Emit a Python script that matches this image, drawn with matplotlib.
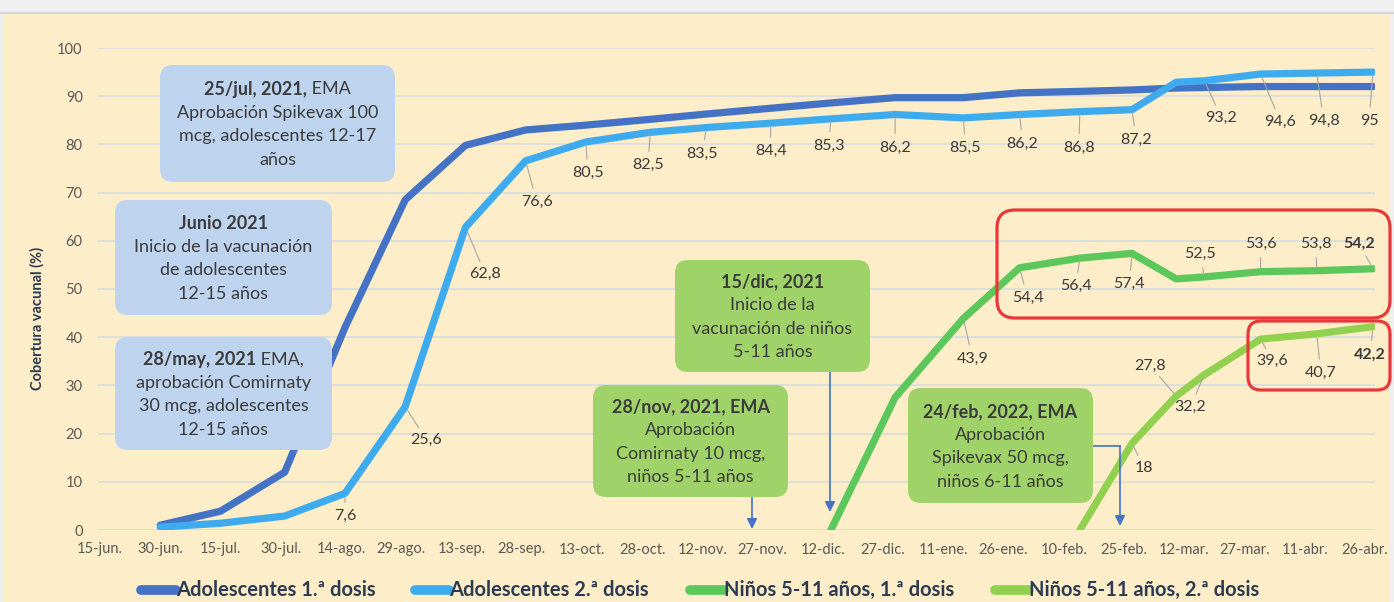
import matplotlib
matplotlib.use("Agg")
import matplotlib.pyplot as plt
from matplotlib.patches import FancyBboxPatch, Rectangle
from matplotlib.lines import Line2D
import numpy as np
import pandas as pd

plt.rcParams['font.family'] = ['Lato', 'DejaVu Sans']

# ---- data -------------------------------------------------------------
fechas = pd.to_datetime([
    '2021-06-30', '2021-07-15', '2021-07-31', '2021-08-15', '2021-08-30',
    '2021-09-14', '2021-09-29', '2021-10-14', '2021-10-30', '2021-11-13',
    '2021-11-29', '2021-12-14', '2021-12-30', '2022-01-16', '2022-01-30',
    '2022-02-14', '2022-02-27', '2022-03-10', '2022-03-17', '2022-03-31',
    '2022-04-14', '2022-04-28'])

nan = np.nan
ado1 = [1.0, 3.9, 12.0, 42.0, 68.5, 79.8, 83.0, 84.0, 85.2, 86.3, 87.5,
        88.6, 89.7, 89.7, 90.7, 91.0, 91.3, 91.7, 91.8, 92.0, 92.0, 92.0]
ado2 = [0.6, 1.4, 2.9, 7.6, 25.6, 62.8, 76.6, 80.5, 82.5, 83.5, 84.4,
        85.3, 86.2, 85.5, 86.2, 86.8, 87.2, 92.9, 93.2, 94.6, 94.8, 95.0]
nin1 = [nan] * 11 + [0.0, 27.5, 43.9, 54.4, 56.4, 57.4, 52.1, 52.5, 53.6, 53.8, 54.2]
nin2 = [nan] * 15 + [0.0, 18.0, 27.8, 32.2, 39.6, 40.7, 42.2]

series_names = ["Adolescentes 1.ª dosis", "Adolescentes 2.ª dosis",
                "Niños 5-11 años, 1.ª dosis", "Niños 5-11 años, 2.ª dosis"]

tick_dates = pd.date_range('2021-06-15', periods=22, freq='15D')
tick_labels = ["15-jun.", "30-jun.", "15-jul.", "30-jul.", "14-ago.", "29-ago.",
               "13-sep.", "28-sep.", "13-oct.", "28-oct.", "12-nov.", "27-nov.",
               "12-dic.", "27-dic.", "11-ene.", "26-ene.", "10-feb.", "25-feb.",
               "12-mar.", "27-mar.", "11-abr.", "26-abr."]

# which points carry a data label, and where the label sits (px right, px down)
lab_ado2 = {3: (0, 23), 4: (21, 33), 5: (20, 47), 6: (11, 41), 7: (2, 31),
            8: (-2, 33), 9: (-4, 26), 10: (0, 28), 11: (-2, 27), 12: (0, 33),
            13: (2, 30), 14: (3, 29), 15: (-1, 36), 16: (4, 30), 18: (17, 37),
            19: (20, 48), 20: (7, 48), 21: (-4, 49)}
lab_nin1 = {13: (9, 40), 14: (8, 30), 15: (-4, 28), 16: (-3, 31), 18: (-4, -23),
            19: (0, -28), 20: (-1, -27), 21: (-14, -25)}
lab_nin2 = {16: (12, 25), 17: (-26, -30), 18: (-14, 32), 19: (12, 22),
            20: (4, 39), 21: (-3, 28)}

# ---- figure -----------------------------------------------------------
W, H, DPI = 1394, 602, 100
CREAM = '#fdedc8'
TXT = '#3b3b3b'
NAVY = '#2c3b52'
colors = ['#4472c4', '#3fabef', '#5cc85c', '#92d050']

fig = plt.figure(figsize=(W / DPI, H / DPI), dpi=DPI, facecolor='#efefef')
T = fig.dpi_scale_trans


def inch(px, py):
    return px / DPI, (H - py) / DPI


fig.patches.append(Rectangle(inch(4, 602), 1386 / DPI, 589 / DPI, transform=T,
                             facecolor=CREAM, edgecolor='none', zorder=-5))
fig.lines.append(Line2D([0, W / DPI], [(H - 13) / DPI] * 2, transform=T,
                        color='#d6d6d6', lw=1.5, zorder=-4))

ax = fig.add_axes([98 / W, 1 - 530 / H, (1375 - 98) / W, (530 - 48) / H])
ax.set_facecolor('none')
ax.set_xlim(pd.Timestamp('2021-06-15') - pd.Timedelta(hours=12),
            pd.Timestamp('2022-04-28') + pd.Timedelta(hours=12))
ax.set_ylim(0, 100)
ax.set_yticks(range(0, 101, 10))
ax.set_xticks(tick_dates)
ax.set_xticklabels(tick_labels)
ax.tick_params(axis='y', length=0, pad=11, labelsize=10.5, labelcolor='#595959')
ax.tick_params(axis='x', length=0, pad=9, labelsize=10.5, labelcolor='#595959')
ax.grid(axis='y', color='#d8dbe2', lw=1.2)
ax.set_axisbelow(True)
for s in ax.spines.values():
    s.set_visible(False)

for vals, c in zip([ado1, ado2, nin1, nin2], colors):
    ax.plot(fechas, vals, color=c, lw=5.2, solid_capstyle='round',
            solid_joinstyle='round', zorder=3)


def fmt(v):
    return '{:g}'.format(v).replace('.', ',')


def data_labels(vals, labs, bold_last=False):
    last = max(labs)
    for i, (dx, dy) in labs.items():
        v = vals[i]
        ox, oy = dx * 0.72, -dy * 0.72
        bold = bold_last and i == last
        ax.annotate(fmt(v), xy=(fechas[i], v), xytext=(ox, oy),
                    textcoords='offset points', ha='center', va='center',
                    fontsize=11.5, color=TXT, zorder=5,
                    fontweight='bold' if bold else 'normal')
        d = np.hypot(dx, dy)
        r = 14
        if d > r + 8:
            k = (d - r) / d
            ax.annotate('', xy=(fechas[i], v), xytext=(ox * k, oy * k),
                        textcoords='offset points', zorder=4,
                        arrowprops=dict(arrowstyle='-', color='#a6a6a6', lw=0.8,
                                        shrinkA=0, shrinkB=3))


data_labels(ado2, lab_ado2)
data_labels(nin1, lab_nin1, bold_last=True)
data_labels(nin2, lab_nin2, bold_last=True)

fig.text(*inch(37, 318), 'Cobertura vacunal (%)', transform=T, rotation=90,
         ha='center', va='center', fontsize=10.5, fontweight='bold', color=NAVY)

# ---- annotation boxes -------------------------------------------------
renderer = fig.canvas.get_renderer()


def note(x0, y0, x1, y1, color, lines, size=13, spacing=23.5):
    fig.patches.append(FancyBboxPatch(inch(x0, y1), (x1 - x0) / DPI, (y1 - y0) / DPI,
                                      boxstyle='round,pad=0,rounding_size=0.13',
                                      transform=T, facecolor=color,
                                      edgecolor='none', zorder=6))
    cx, cy = (x0 + x1) / 2, (y0 + y1) / 2 + 1
    n = len(lines)
    for i, segs in enumerate(lines):
        y = cy + (i - (n - 1) / 2) * spacing
        texts = [fig.text(0, 0, s, transform=T, fontsize=size, color=TXT,
                          fontweight='bold' if b else 'normal',
                          ha='left', va='center', zorder=7) for s, b in segs]
        widths = [t.get_window_extent(renderer).width for t in texts]
        x = cx - sum(widths) / 2
        for t, w in zip(texts, widths):
            t.set_position(inch(x, y))
            x += w


BLUEBOX = '#bdd3ee'
GREENBOX = '#9fd36a'
note(160, 65, 395, 182, BLUEBOX,
     [[("25/jul, 2021,", True), (" EMA", False)],
      [("Aprobación Spikevax 100", False)],
      [("mcg, adolescentes 12-17", False)],
      [("años", False)]])
note(115, 200, 332, 315, BLUEBOX,
     [[("Junio 2021", True)],
      [("Inicio de la vacunación", False)],
      [("de adolescentes", False)],
      [("12-15 años", False)]])
note(115, 337, 332, 450, BLUEBOX,
     [[("28/may, 2021", True), (" EMA,", False)],
      [("aprobación Comirnaty", False)],
      [("30 mcg, adolescentes", False)],
      [("12-15 años", False)]])
note(675, 260, 870, 372, GREENBOX,
     [[("15/dic, 2021", True)],
      [("Inicio de la", False)],
      [("vacunación de niños", False)],
      [("5-11 años", False)]])
note(593, 385, 788, 497, GREENBOX,
     [[("28/nov, 2021, EMA", True)],
      [("Aprobación", False)],
      [("Comirnaty 10 mcg,", False)],
      [("niños 5-11 años", False)]])
note(908, 388, 1093, 503, GREENBOX,
     [[("24/feb, 2022, EMA", True)],
      [("Aprobación", False)],
      [("Spikevax 50 mcg,", False)],
      [("niños 6-11 años", False)]])

arrow_kw = dict(arrowstyle='-|>,head_length=0.5,head_width=0.25', color='#4472c4',
                lw=1.2, shrinkA=0, shrinkB=0, mutation_scale=12)
for (xa, ya, xb, yb) in [(830, 372, 830, 512), (752, 497, 752, 529), (1120, 446, 1120, 526)]:
    ax.annotate('', xy=inch(xb, yb), xycoords=T, xytext=inch(xa, ya), textcoords=T,
                arrowprops=arrow_kw, annotation_clip=False, zorder=8)
fig.lines.append(Line2D([1093 / DPI, 1120 / DPI], [(H - 446) / DPI] * 2,
                        transform=T, color='#4472c4', lw=1.2))

# red highlight frames
for (x0, y0, x1, y1, r) in [(997, 210, 1390, 318, 0.18), (1248, 321, 1390, 390, 0.13)]:
    fig.patches.append(FancyBboxPatch(inch(x0, y1), (x1 - x0) / DPI, (y1 - y0) / DPI,
                                      boxstyle=f'round,pad=0,rounding_size={r}',
                                      transform=T, facecolor='none',
                                      edgecolor='#e8393a', lw=2.3, zorder=9))

# ---- legend -----------------------------------------------------------
leg_pos = [(141, 176), (415, 449), (690, 724), (995, 1029)]
for (xa, xb), name, c in zip(leg_pos, series_names, colors):
    fig.lines.append(Line2D([xa / DPI, xb / DPI], [(H - 590) / DPI] * 2, transform=T,
                            color=c, lw=7, solid_capstyle='round'))
    fig.text(*inch(xb, 590), name, transform=T, ha='left', va='center',
             fontsize=14.5, fontweight='bold', color=NAVY)

fig.savefig('out.png', dpi=DPI, facecolor=fig.get_facecolor())
